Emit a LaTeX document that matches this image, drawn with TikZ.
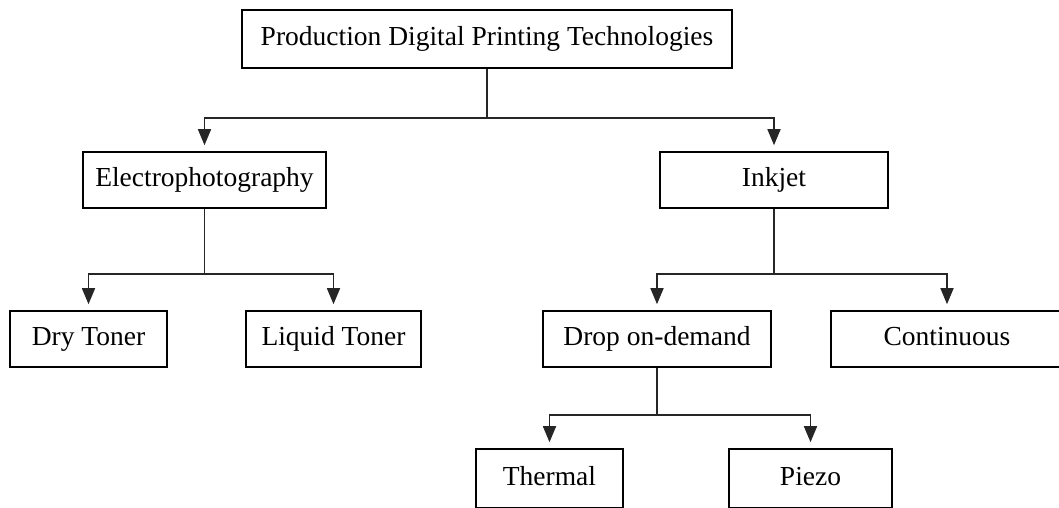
\documentclass[tikz,border=0pt]{standalone}
\usepackage{fontspec}
\setmainfont{Liberation Serif}
\usetikzlibrary{arrows.meta}

\tikzset{
  box/.style={draw=black, line width=1.6pt, fill=white, inner sep=0pt,
              minimum height=56pt, text height=19pt, text depth=6pt,
              font=\fontsize{27.5}{30}\selectfont},
  link/.style={draw=black!85, line width=1.6pt},
  arrowlink/.style={link, -{Triangle[length=16pt,width=13pt]}, shorten >=6pt}
}

\begin{document}
\begin{tikzpicture}[x=1pt, y=-1pt]
  \useasboundingbox (0,0) rectangle (1059,507);
  \clip (0,0) rectangle (1059,507);

  % boxes
  \node[box, minimum width=490pt, minimum height=58pt] (root) at (487,39) {Production Digital Printing Technologies};
  \node[box, minimum width=243pt] (electro) at (204.5,180) {Electrophotography};
  \node[box, minimum width=228pt] (inkjet) at (774,180) {Inkjet};
  \node[box, minimum width=157pt] (dry) at (88.5,339) {Dry Toner};
  \node[box, minimum width=175pt] (liquid) at (333.5,339) {Liquid Toner};
  \node[box, minimum width=228pt] (drop) at (657,339) {Drop on-demand};
  \node[box, minimum width=232pt] (cont) at (947,339) {Continuous};
  \node[box, minimum width=147pt, minimum height=59pt] (thermal) at (549.5,478.5) {Thermal};
  \node[box, minimum width=163pt, minimum height=59pt] (piezo) at (810.5,478.5) {Piezo};

  % junction points below each parent
  \coordinate (jroot) at (root.south |- 0,118);
  \coordinate (jelectro) at (electro.south |- 0,274);
  \coordinate (jinkjet) at (inkjet.south |- 0,274);
  \coordinate (jdrop) at (drop.south |- 0,415);

  % stems
  \draw[link] (root.south) -- (jroot);
  \draw[link] (electro.south) -- (jelectro);
  \draw[link] (inkjet.south) -- (jinkjet);
  \draw[link] (drop.south) -- (jdrop);

  % branches
  \draw[arrowlink] (jroot) -| (electro.north);
  \draw[arrowlink] (jroot) -| (inkjet.north);
  \draw[arrowlink] (jelectro) -| (dry.north);
  \draw[arrowlink] (jelectro) -| (liquid.north);
  \draw[arrowlink] (jinkjet) -| (drop.north);
  \draw[arrowlink] (jinkjet) -| (cont.north);
  \draw[arrowlink] (jdrop) -| (thermal.north);
  \draw[arrowlink] (jdrop) -| (piezo.north);
\end{tikzpicture}
\end{document}
